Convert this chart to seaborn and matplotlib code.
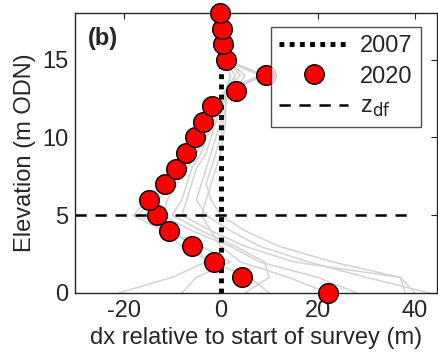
import numpy as np
import pandas as pd
import seaborn as sns
import matplotlib.pyplot as plt
from matplotlib.lines import Line2D

sns.set_style("white")
plt.rcParams["font.family"] = ["Liberation Sans", "DejaVu Sans"]
plt.rcParams["axes.unicode_minus"] = False

# elevations (m ODN)
z_2020 = list(range(0, 19))
dx_2020 = [22, 4.3, -1.3, -6, -10.7, -13.1, -14.8, -11.4, -9.3, -7.1,
           -5.4, -3.7, -1.8, 3.1, 9.3, 1.1, 0.4, 0.2, -0.1]

z_2007 = [0, 15]
dx_2007 = [0, 0]

z_df = 5

# intermediate surveys (grey), dx at elevation 0..15
z_prof = list(range(0, 16))
prof_1 = [40, 37, 23, 12, 5, 0, -2, -3, -2, -1, 0, 0.5, 1, 1, 2, 0.5]
prof_2 = [43, 30, 18, 8, 2, -3, -5, -4, -3, -2, -1, 0, 0.5, 1, 3, 0.5]
prof_3 = [38, 37, 15, 5, -2, -8, -7, -6, -5, -3, -2, -1, 0, 1, 9, 1]
prof_4 = [28, 20, 8, 2, -6, -12, -11, -9, -7, -5, -3, -1.5, -0.5, 1, 8, 0.5]
prof_5 = [-21, -10, -3, -5, -10, -17, -14, -11, -9, -7, -5, -3, -1, 2, 9, 1]
prof_6 = [-8, -5, 2, -4, -12, -18, -15, -12, -10, -8, -6, -4, -2, 3, 5, 1]
prof_7 = [5, 10, 9, 3, -4, -10, -8, -7, -6, -4, -3, -1, 0, 2, 3, 0.5]
prof_8 = [22, 14, 4, 0, -2, -4, -3, -2, -1, 0, 0.5, 1, 1, 1.5, 2, 0.5]
prof_9 = [10, 6, -2, -8, -12, -15, -13, -10, -8, -6, -4, -2, -1, 1, 4, 1]
profiles = [prof_1, prof_2, prof_3, prof_4, prof_5, prof_6, prof_7, prof_8, prof_9]

grey = pd.DataFrame({
    "dx": np.concatenate(profiles),
    "z": z_prof * len(profiles),
    "survey": np.repeat(np.arange(len(profiles)), len(z_prof)),
})

fs = 17

fig = plt.figure(figsize=(4.39, 3.63), dpi=100)
ax = fig.add_axes([0.171, 0.193, 0.824, 0.771])

sns.lineplot(data=grey, x="dx", y="z", units="survey", estimator=None,
             sort=False, color="#d3d3d3", lw=1.1, ax=ax, legend=False)

ax.plot(dx_2007, z_2007, color="k", lw=3.5, ls=(0, (1, 1.1)))
ax.plot([-30, 39], [z_df, z_df], color="k", lw=1.8, ls=(0, (4.5, 3.5)))

sns.scatterplot(x=dx_2020, y=z_2020, s=200, color="red", edgecolor="k",
                linewidth=1, ax=ax, zorder=5, clip_on=False)

ax.set_xlim(-30, 44.5)
ax.set_ylim(0, 18)
ax.set_xticks([-20, 0, 20, 40])
ax.set_yticks([0, 5, 10, 15])
ax.tick_params(direction="in", length=4, labelsize=fs, colors="0.15",
               top=True, right=True, labelcolor="0.15", pad=5)
for sp in ax.spines.values():
    sp.set_color("0.15")
    sp.set_linewidth(1)
ax.set_xlabel("dx relative to start of survey (m)", fontsize=fs, color="0.15",
              labelpad=4)
ax.set_ylabel("Elevation (m ODN)", fontsize=fs, color="0.15", labelpad=4)

ax.text(0.035, 0.95, "(b)", transform=ax.transAxes, fontsize=fs,
        fontweight="bold", va="top")

handles = [
    Line2D([], [], color="k", lw=3.5, ls=(0, (1, 1.1))),
    Line2D([], [], marker="o", ls="", markersize=14, markerfacecolor="red",
           markeredgecolor="k"),
    Line2D([], [], color="k", lw=1.8, ls=(0, (4.5, 3.5))),
]
leg = ax.legend(handles, ["2007", "2020", "z$_{\\rm df}$"], loc="upper right",
                bbox_to_anchor=(0.955, 0.95), borderaxespad=0, fontsize=fs,
                frameon=True, fancybox=False, edgecolor="0.15",
                handlelength=2.9, borderpad=0.35, labelspacing=0.35,
                handletextpad=0.5)
leg.get_frame().set_linewidth(1)

fig.savefig("out.png", dpi=100)
